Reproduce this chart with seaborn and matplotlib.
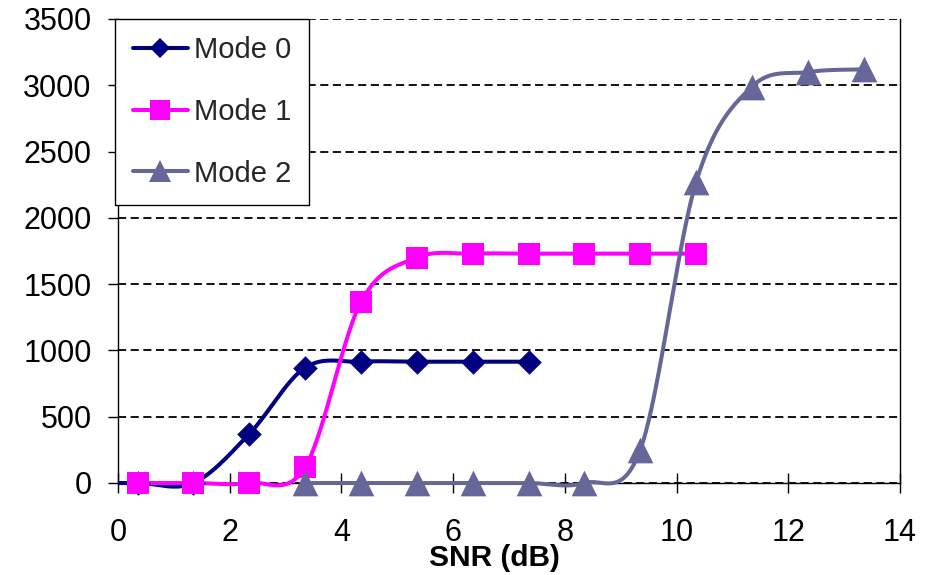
import numpy as np
import pandas as pd
import matplotlib
matplotlib.use("Agg")
import matplotlib.pyplot as plt
from matplotlib.lines import Line2D
from matplotlib.patches import Rectangle
import seaborn as sns

# ---- data ----
snr_mode0 = [-0.65, 0.35, 1.35, 2.35, 3.35, 4.35, 5.35, 6.35, 7.35]
val_mode0 = [0, 0, 0, 370, 870, 915, 915, 915, 915]

snr_mode1 = [0.35, 1.35, 2.35, 3.35, 4.35, 5.35, 6.35, 7.35, 8.35, 9.35, 10.35]
val_mode1 = [0, 0, 0, 120, 1365, 1700, 1730, 1730, 1730, 1730, 1730]

snr_mode2 = [3.35, 4.35, 5.35, 6.35, 7.35, 8.35, 9.35, 10.35, 11.35, 12.35, 13.35]
val_mode2 = [0, 0, 0, 0, 0, 0, 250, 2270, 2990, 3100, 3120]

labels = ["Mode 0", "Mode 1", "Mode 2"]
colors = ["#000080", "#FF00FF", "#666699"]
markers = ["D", "s", "^"]
marker_sizes = [12.5, 16.5, 18.5]

x_ticks = [0, 2, 4, 6, 8, 10, 12, 14]
y_ticks = [0, 500, 1000, 1500, 2000, 2500, 3000, 3500]
x_label = "SNR (dB)"


def smooth_curve(x, y, n=40):
    """Excel-like smoothed line (Catmull-Rom style Bezier segments)."""
    P = np.column_stack([x, y]).astype(float)
    out = []
    for i in range(len(P) - 1):
        p0 = P[i - 1] if i > 0 else P[i]
        p1, p2 = P[i], P[i + 1]
        p3 = P[i + 2] if i + 2 < len(P) else P[i + 1]
        c1 = p1 + (p2 - p0) / 6.0
        c2 = p2 - (p3 - p1) / 6.0
        t = np.linspace(0, 1, n)[:, None]
        seg = (1 - t) ** 3 * p1 + 3 * (1 - t) ** 2 * t * c1 + 3 * (1 - t) * t ** 2 * c2 + t ** 3 * p2
        out.append(seg if i == 0 else seg[1:])
    return np.vstack(out)


sns.set_theme(style="white")
plt.rcParams["font.family"] = ["Liberation Sans", "DejaVu Sans"]

fig = plt.figure(figsize=(9.25, 5.75), dpi=100)
ax = fig.add_axes([118 / 925, 1 - 483 / 575, 782 / 925, 464 / 575])

# clip region: full width of the axes, but allowed to spill below the x axis
clip_rect = Rectangle((0, -0.1), 1, 1.2, transform=ax.transAxes, facecolor="none",
                      edgecolor="none")
ax.add_patch(clip_rect)

series = [(snr_mode0, val_mode0), (snr_mode1, val_mode1), (snr_mode2, val_mode2)]
for (xs, ys), lab, col, mk, ms in zip(series, labels, colors, markers, marker_sizes):
    curve = smooth_curve(xs, ys)
    cdf = pd.DataFrame({"x": curve[:, 0], "y": curve[:, 1]})
    n_lines = len(ax.lines)
    sns.lineplot(data=cdf, x="x", y="y", sort=False, estimator=None, color=col,
                 linewidth=2.9, ax=ax, legend=False, zorder=3)
    for ln in ax.lines[n_lines:]:
        ln.set_clip_path(clip_rect)
    pdf = pd.DataFrame({"x": xs, "y": ys})
    n_coll = len(ax.collections)
    sns.scatterplot(data=pdf, x="x", y="y", marker=mk, s=ms ** 2, color=col,
                    linewidth=0, ax=ax, legend=False, zorder=4)
    for coll in ax.collections[n_coll:]:
        coll.set_clip_path(clip_rect)

ax.set_xlim(0, 14)
ax.set_ylim(0, 3500)
ax.set_xticks(x_ticks)
ax.set_yticks(y_ticks)
ax.set_xticklabels([str(v) for v in x_ticks])
ax.set_yticklabels([str(v) for v in y_ticks])

ax.yaxis.grid(True, linestyle=(0, (4.5, 2.5)), color="black", linewidth=1.3)
ax.xaxis.grid(False)
ax.set_axisbelow(True)

for side in ["left", "bottom", "right"]:
    ax.spines[side].set_visible(True)
    ax.spines[side].set_color("black")
    ax.spines[side].set_linewidth(1.0)
ax.spines["top"].set_visible(False)

ax.tick_params(axis="x", direction="inout", length=14, width=1, colors="black",
               labelsize=22, pad=18, bottom=True)
ax.tick_params(axis="y", direction="out", length=7, width=1, colors="black",
               labelsize=22, pad=12, left=True)

ax.set_ylabel("")
ax.set_xlabel(x_label, fontsize=21.5, fontweight="bold", color="black")
ax.xaxis.set_label_coords(0.482, -0.131)

handles = [Line2D([0], [0], color=c, linewidth=2.9, marker=m, markersize=s * 0.85,
                  markeredgewidth=0) for c, m, s in zip(colors, markers, marker_sizes)]
leg = fig.legend(handles, labels, loc="upper left",
                 bbox_to_anchor=(115 / 925, 1 - 19 / 575), borderaxespad=0,
                 fontsize=21, frameon=True, fancybox=False, framealpha=1,
                 edgecolor="black", handlelength=1.9, handletextpad=0.2,
                 labelspacing=1.15, borderpad=0.6)
leg.get_frame().set_linewidth(1.0)
leg.set_zorder(10)

fig.savefig("out.png", dpi=100)
